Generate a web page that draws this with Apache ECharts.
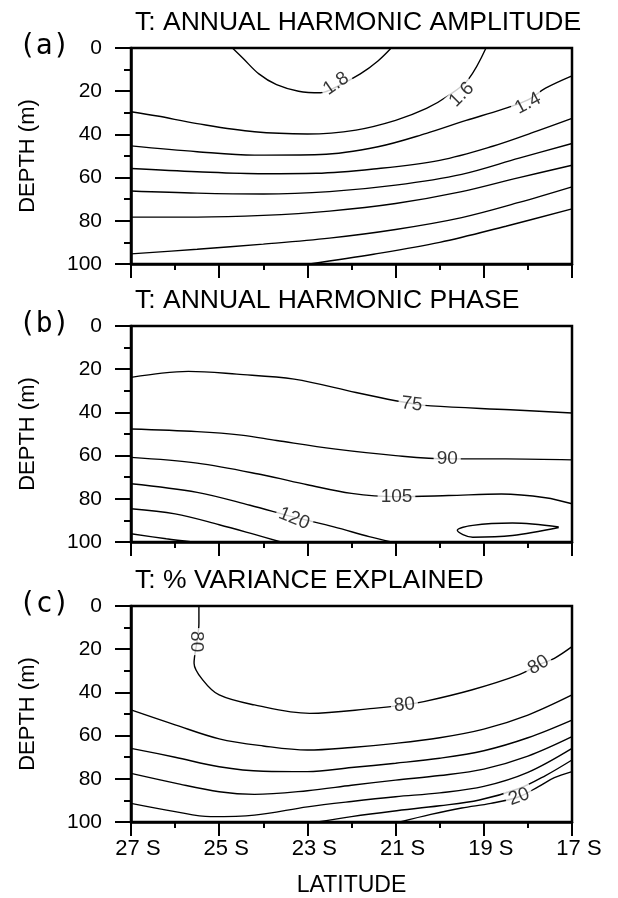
<!DOCTYPE html>
<html>
<head>
<meta charset="utf-8">
<script src="https://cdn.jsdelivr.net/npm/echarts@6/dist/echarts.min.js"></script>
<style>
html, body { margin: 0; background: #fff; }
#chart { width: 618px; height: 898px; }
</style>
</head>
<body>
<div id="chart"></div>
<script>
// panel texts
var panelTitles = ['T: ANNUAL HARMONIC AMPLITUDE', 'T: ANNUAL HARMONIC PHASE', 'T: % VARIANCE EXPLAINED'];
var panelTags = ['(a)', '(b)', '(c)'];
var latMin = 17, latMax = 27;          // 27 S on the left
var depthMin = 0, depthMax = 100;

// (a) amplitude contours, points are [latitude S, depth m]
var amp18 = [[24.7,0],[24.45,5],[24.1,12],[23.7,17],[23.2,20],[22.7,20.7],[22.3,17.5],[21.8,12],[21.4,6],[21.1,0]];
var amp16 = [[27,29.5],[26.4,31.5],[25.5,35],[24.2,38.8],[23,39.8],[21.9,38],[21,33.5],[20.3,28],[19.8,22],[19.35,14.5],[18.95,0]];
var amp14 = [[27,45.3],[25.5,48],[24.2,49.6],[22.7,49.3],[21.4,45.7],[20.3,39.5],[19.4,33.5],[18.6,28.5],[18,24],[17.6,18.6],[17,12.9]];
var amp12 = [[27,55.8],[25.5,57.3],[24,58.2],[22.8,58],[21.5,56],[20,52],[18.8,45.5],[17.8,38.5],[17,32.6]];
var amp10 = [[27,66.2],[25.5,67.2],[24,67.6],[22.5,66.5],[21,63.5],[19.5,58.5],[18.2,51],[17,44.2]];
var amp08 = [[27,78.3],[25.5,78.3],[24,77.5],[22.5,75.5],[21,72],[19.5,66.5],[18.2,60],[17,54.3]];
var amp06 = [[27,95.3],[25.5,93.2],[24,90.8],[22.5,88],[21,84],[19.5,78.5],[18.2,71.5],[17,64.3]];
var amp04 = [[22.95,100],[21.5,95.5],[20,90],[18.5,82.5],[17,74.5]];
var ampLabels = [[22.35,16.5,'1.8'],[19.5,21.6,'1.6'],[18.0,25.7,'1.4']];

// (b) phase contours
var ph75 = [[27,23.8],[26.3,21.8],[25.7,21],[24.6,22.3],[23.3,24.6],[21.9,30.8],[21,34.6],[20.6,36],[20.2,37],[18.4,38.8],[17,40.3]];
var ph90 = [[27,47.7],[25.5,48.9],[24.5,50.5],[23.7,53],[22.4,56.9],[21,60],[19.8,61.5],[18.5,61.5],[17,62]];
var ph105 = [[27,60.8],[25.5,63.5],[24,69],[23,73.5],[22,77.5],[21,79],[19.8,78.5],[18.6,77.8],[17.6,79.5],[17,82.3]];
var ph120 = [[27,73],[25.5,77],[24.3,83],[23.3,88.5],[22.4,93],[21.6,97.5],[21.1,100]];
var ph135 = [[27,84.6],[26,87],[25,92],[24.2,96.5],[23.6,100]];
var ph150 = [[27,96.2],[26.2,98.5],[25.6,100]];
var phLoop = [[17.3,93],[18.35,91.2],[19.25,92.3],[19.6,94.6],[19.25,97.8],[18.35,97],[17.3,93.3]];
var phLabels = [[20.63,36.2,'75'],[19.83,61.5,'90'],[20.98,79.2,'105'],[23.3,89.2,'120']];

// (c) % variance contours
var var80 = [[25.46,0],[25.46,8],[25.5,16],[25.57,26.5],[25.37,34.3],[25.0,41.2],[24.2,45.8],[22.95,49.7],[21.5,47.4],[20.8,45.8],[20.36,44.3],[19.28,38.9],[18.21,31.9],[17.76,27.3],[17.4,24.2],[17,18.8]];
var var70 = [[27,48.1],[26,55],[25,61.5],[24,64.8],[23,66.7],[22,65.5],[21,63.6],[20,61],[19,57],[18,50.5],[17,41.2]];
var var60 = [[27,65.9],[26,70],[25,74.4],[24,76.5],[23,76.7],[22,74.8],[21,72.8],[20,70.5],[19,67],[18,61],[17,52.8]];
var var50 = [[27,77.5],[26,82],[25,86],[24.2,87.2],[23,85.5],[22,83],[21,80.6],[20,78.5],[19,75.5],[18,69.5],[17,60.5]];
var var40 = [[27,91.4],[26,95.2],[25.2,97.5],[24.2,96.8],[23,93],[22,90.5],[21,88.3],[20,86.5],[19,83.5],[18,77],[17,65.9]];
var var30 = [[22.77,100],[22,97.5],[21.07,95],[20,92.5],[19.1,89.8],[18.2,84.5],[17.6,78.5],[17,71.3]];
var var20 = [[20.9,100],[20.2,96.5],[19.5,93.5],[18.84,91.4],[18.2,88.3],[17.76,83.6],[17.4,79.5],[17,76.7]];
var varLabels = [[25.52,16.5,'80'],[20.8,45.8,'80'],[17.76,27.3,'80'],[18.2,88.3,'20']];

var panels = [
    {lines: [amp18, amp16, amp14, amp12, amp10, amp08, amp06, amp04], labels: ampLabels, angles: [35, 45, 28]},
    {lines: [ph75, ph90, ph105, ph120, ph135, ph150, phLoop], labels: phLabels, angles: [-6, 0, 0, -22]},
    {lines: [var80, var70, var60, var50, var40, var30, var20], labels: varLabels, angles: [-90, 6, 30, 20]}
];

var font = 'Liberation Sans, Arial, sans-serif';
var gridTops = [48, 326, 606];

var grids = [], xAxes = [], yAxes = [], titles = [], series = [];

gridTops.forEach(function(top, i){
    grids.push({left: 131, right: 46, top: top, height: 216, show: true, borderColor: '#000', borderWidth: 2.5});

    xAxes.push({
        type: 'value', gridIndex: i, min: latMin, max: latMax, interval: 2, inverse: true,
        axisLine: {show: true, onZero: false, lineStyle: {color: '#000', width: 2.5}},
        axisTick: {show: true, length: 14, lineStyle: {color: '#000', width: 2}},
        minorTick: {show: true, splitNumber: 2, length: 6, lineStyle: {color: '#000', width: 2}},
        splitLine: {show: false},
        axisLabel: {
            show: i === 2, color: '#000', fontSize: 22, fontFamily: font, margin: 16,
            padding: [0, 0, 0, 14],
            formatter: function(v){ return v + ' S'; }
        },
        name: i === 2 ? 'LATITUDE' : '',
        nameLocation: 'middle', nameGap: 52,
        nameTextStyle: {color: '#000', fontSize: 23, fontFamily: font}
    });

    yAxes.push({
        type: 'value', gridIndex: i, min: depthMin, max: depthMax, interval: 20, inverse: true,
        axisLine: {show: true, onZero: false, lineStyle: {color: '#000', width: 2.5}},
        axisTick: {show: true, length: 16, lineStyle: {color: '#000', width: 2}},
        minorTick: {show: true, splitNumber: 2, length: 7, lineStyle: {color: '#000', width: 2}},
        splitLine: {show: false},
        axisLabel: {color: '#000', fontSize: 21, fontFamily: font, margin: 29},
        name: 'DEPTH (m)', nameLocation: 'middle', nameRotate: 90, nameGap: 92,
        nameTextStyle: {color: '#000', fontSize: 22, fontFamily: font}
    });

    titles.push({
        text: panelTitles[i], left: 135, top: top - 39, padding: 0,
        textStyle: {color: '#000', fontSize: 26.5, fontWeight: 'normal', fontFamily: font}
    });
    titles.push({
        text: panelTags[i], left: 19, top: top - 15, padding: 0,
        textStyle: {color: '#000', fontSize: 28, fontWeight: 'normal', fontFamily: 'DejaVu Sans Mono, monospace'}
    });

    var p = panels[i];
    p.lines.forEach(function(pts){
        series.push({
            type: 'line', xAxisIndex: i, yAxisIndex: i, data: pts,
            smooth: 0.35, symbol: 'none', silent: true, z: 2,
            lineStyle: {color: '#000', width: 1.4}
        });
    });
    series.push({
        type: 'scatter', xAxisIndex: i, yAxisIndex: i, silent: true, z: 5,
        symbolSize: 1, itemStyle: {color: 'rgba(0,0,0,0)'},
        data: p.labels.map(function(l, k){
            return {
                value: [l[0], l[1]],
                label: {
                    show: true, position: 'inside', formatter: l[2], rotate: p.angles[k],
                    color: '#000', fontSize: 19, fontFamily: font,
                    backgroundColor: '#fff', padding: [0, 3]
                }
            };
        })
    });
});

var option = {
    animation: false,
    backgroundColor: '#fff',
    title: titles,
    grid: grids,
    xAxis: xAxes,
    yAxis: yAxes,
    series: series
};

echarts.init(document.getElementById('chart')).setOption(option);
</script>
</body>
</html>
